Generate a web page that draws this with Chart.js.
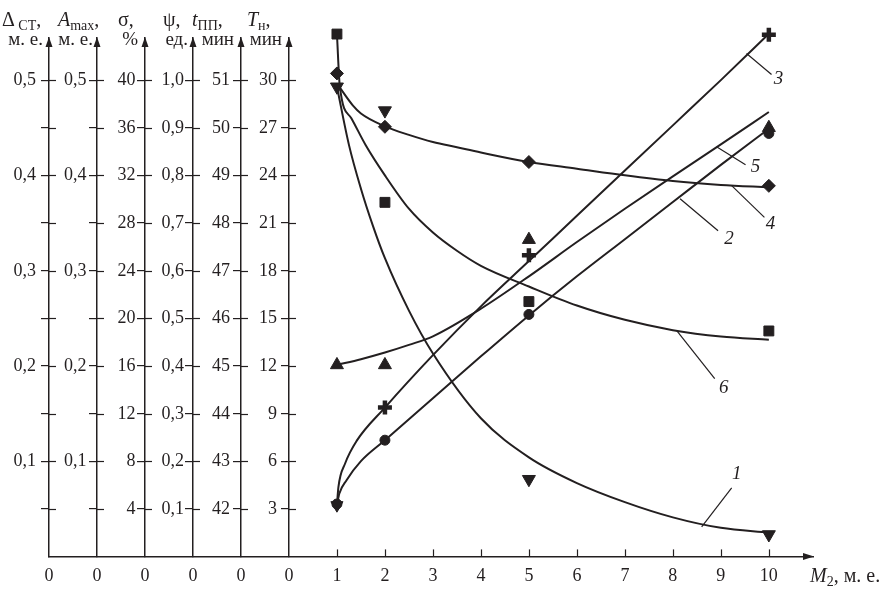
<!DOCTYPE html>
<html>
<head>
<meta charset="utf-8">
<script src="https://cdn.jsdelivr.net/npm/chart.js@4.4.1/dist/chart.umd.min.js"></script>
<style>
  html, body { margin: 0; padding: 0; background: #fff; }
</style>
</head>
<body>
<canvas id="grafico" width="883" height="592"></canvas>
<script>
const ink = '#231f20';
const serif = "'Liberation Serif', 'DejaVu Serif', serif";

// M2 values where the points were measured
const m2 = [1, 2, 5, 10];

// measured points (one array per curve, in the units of its own axis)
const deltaCt = [0.493, 0.468, 0.081, 0.023];   // 1 - Δст, м.е.
const aMax    = [0.055, 0.122, 0.254, 0.444];   // 2 - Amax, м.е.
const sigma   = [4.3, 12.5, 25.3, 43.8];        // 3 - σ, %
const psi     = [1.014, 0.902, 0.828, 0.778];   // 4 - ψ, ед.
const tPP     = [45.02, 45.02, 47.65, 50.0];    // 5 - tпп, мин
const tN      = [32.9, 22.3, 16.05, 14.2];      // 6 - Tн, мин

// approximating curves
const c1x = [1, 1.25, 1.5, 1.75, 2, 2.5, 3, 4, 5, 6, 7, 8, 9, 10];
const c1y = [0.493, 0.432, 0.386, 0.347, 0.313, 0.258, 0.213, 0.145, 0.104, 0.077, 0.057, 0.041, 0.030, 0.025];
const c2x = [1, 1.05, 1.2, 1.5, 2, 3, 4, 5, 6, 7, 8, 9, 10];
const c2y = [0.054, 0.066, 0.080, 0.100, 0.122, 0.166, 0.210, 0.253, 0.294, 0.333, 0.372, 0.411, 0.449];
const c3x = [1, 1.03, 1.17, 1.41, 2, 3, 4, 5, 6, 7, 8, 9, 10];
const c3y = [4.3, 5.8, 7.8, 9.7, 12.5, 16.9, 21.0, 24.8, 28.6, 32.4, 36.2, 40.0, 43.9];
const c4x = [1.02, 1.33, 1.5, 2, 2.5, 3, 3.5, 4, 5, 6, 7, 8, 9, 10];
const c4y = [0.99, 0.947, 0.930, 0.903, 0.885, 0.870, 0.859, 0.848, 0.828, 0.814, 0.800, 0.788, 0.780, 0.775];
const c5x = [1, 1.5, 2, 2.5, 3, 4, 5, 6, 7, 8, 9, 10];
const c5y = [45.02, 45.14, 45.28, 45.44, 45.62, 46.2, 46.88, 47.6, 48.3, 48.98, 49.65, 50.33];
const c6x = [1, 1.06, 1.3, 1.6, 2, 2.5, 3, 3.5, 4, 5, 6, 7, 8, 9, 10];
const c6y = [32.9, 29.6, 27.6, 25.9, 24.0, 21.9, 20.4, 19.25, 18.3, 17.0, 15.8, 14.9, 14.25, 13.85, 13.65];

// tick values
const xTicks = [-5, -4, -3, -2, -1, 0, 1, 2, 3, 4, 5, 6, 7, 8, 9, 10];
const dTicks = [0.05, 0.1, 0.15, 0.2, 0.25, 0.3, 0.35, 0.4, 0.45, 0.5];
const sTicks = [4, 8, 12, 16, 20, 24, 28, 32, 36, 40];
const pTicks = [0.1, 0.2, 0.3, 0.4, 0.5, 0.6, 0.7, 0.8, 0.9, 1.0];
const tTicks = [42, 43, 44, 45, 46, 47, 48, 49, 50, 51];
const nTicks = [3, 6, 9, 12, 15, 18, 21, 24, 27, 30];

const topSteps = 10.884;  // axes run a bit above the last tick

const comma = v => v.toFixed(1).replace('.', ',');
const halfComma = v => (Math.round(v * 100) % 10 === 0 ? comma(v) : '');
const plain = v => String(v);

function yAxis(at, min, step, ticks, fmt) {
  return {
    type: 'linear',
    position: { x: at },
    min: min,
    max: min + step * topSteps,
    afterBuildTicks: s => { s.ticks = ticks.map(v => ({ value: v })); },
    ticks: { display: false, callback: fmt, autoSkip: false },
    grid: { drawOnChartArea: false, tickLength: 7, color: ink, lineWidth: 1.2 },
    border: { color: ink, width: 1.5 }
  };
}

const pts = (xs, ys) => xs.map((x, i) => ({ x: x, y: ys[i] }));

function marks(ys, id, style, r, extra) {
  return Object.assign({
    data: pts(m2, ys), yAxisID: id, showLine: false, clip: false,
    pointStyle: style, pointRadius: r, pointBorderWidth: 1,
    pointBackgroundColor: ink, pointBorderColor: ink
  }, extra || {});
}

function curve(xs, ys, id) {
  return {
    data: pts(xs, ys), yAxisID: id, showLine: true, clip: false,
    pointRadius: 0, borderColor: ink, borderWidth: 2,
    cubicInterpolationMode: 'monotone', fill: false
  };
}

const axisIds = ['yD', 'yA', 'yS', 'yP', 'yT', 'yN'];
const axisFmt = [halfComma, halfComma, plain, comma, plain, plain];
const labelGap = [13, 10.5, 9.5, 9, 11, 12];
const axisTitles = [
  { dx: -47, ux: -6, top: [['Δ', 'n'], [' СТ', 's'], [',', 'n']], unit: 'м. е.' },
  { dx: -39, ux: -4, top: [['A', 'i'], ['max', 's'], [',', 'n']], unit: 'м. е.' },
  { dx: -27, ux: -7, top: [['σ,', 'n']], unit: '%' },
  { dx: -30, ux: -5, top: [['ψ,', 'n']], unit: 'ед.' },
  { dx: -49, ux: -7, top: [['t', 'i'], ['ПП', 's'], [',', 'n']], unit: 'мин' },
  { dx: -42, ux: -7, top: [['T', 'i'], ['н', 's'], [',', 'n']], unit: 'мин' }
];
const curveNotes = [
  { t: '1', id: 'yD', x: 8.6, y: 0.031, ex: 30, ey: -39, tx: 35, ty: -53 },
  { t: '2', id: 'yA', x: 8.15, y: 0.3755, ex: 38, ey: 32, tx: 49, ty: 40 },
  { t: '3', id: 'yS', x: 9.535, y: 42.24, ex: 25, ey: 21, tx: 32, ty: 26 },
  { t: '4', id: 'yP', x: 9.22, y: 0.779, ex: 33, ey: 32, tx: 39, ty: 39 },
  { t: '5', id: 'yT', x: 8.91, y: 49.6, ex: 29, ey: 18, tx: 39, ty: 20 },
  { t: '6', id: 'yN', x: 8.08, y: 14.22, ex: 38, ey: 48, tx: 47, ty: 57 }
];

function rich(ctx, x, y, segs, size) {
  segs.forEach(([txt, st]) => {
    const sub = st === 's';
    ctx.font = (st === 'i' ? 'italic ' : '') + (sub ? Math.round(size * 0.7) : size) + 'px ' + serif;
    ctx.fillText(txt, x, y + (sub ? 4 : 0));
    x += ctx.measureText(txt).width;
  });
}

function seg(ctx, x1, y1, x2, y2) {
  ctx.beginPath(); ctx.moveTo(x1, y1); ctx.lineTo(x2, y2); ctx.stroke();
}

// tick labels, ticks on the other side of the axes, arrows, titles and curve numbers
const decor = {
  id: 'decor',
  afterDraw(chart) {
    const ctx = chart.ctx, xs = chart.scales.x, area = chart.chartArea;
    ctx.save();
    ctx.strokeStyle = ink; ctx.fillStyle = ink; ctx.lineWidth = 1.2;

    axisIds.forEach((id, k) => {
      const s = chart.scales[id];
      const px = Math.round(xs.getPixelForValue(s.options.position.x));
      ctx.textAlign = 'right'; ctx.textBaseline = 'middle';
      ctx.font = '18px ' + serif;
      s.ticks.forEach(t => {
        const y = Math.round(s.getPixelForValue(t.value)) + 0.5;
        seg(ctx, px, y, px + 7, y);
        ctx.fillText(axisFmt[k](t.value), px - labelGap[k], y);
      });
      ctx.beginPath();
      ctx.moveTo(px, area.top - 1); ctx.lineTo(px - 3.5, area.top + 9); ctx.lineTo(px + 3.5, area.top + 9);
      ctx.closePath(); ctx.fill();

      const ti = axisTitles[k];
      ctx.textBaseline = 'alphabetic';
      ctx.textAlign = 'left';
      rich(ctx, px + ti.dx, 26, ti.top, 20);
      ctx.textAlign = 'right';
      ctx.font = '19px ' + serif;
      ctx.fillText(ti.unit, px + ti.ux, 45);
    });

    // x axis: inner ticks and arrow
    xTicks.filter(v => v > 0).forEach(v => {
      const px = Math.round(xs.getPixelForValue(v)) + 0.5;
      seg(ctx, px, area.bottom, px, area.bottom - 7);
    });
    ctx.beginPath();
    ctx.moveTo(area.right + 1, area.bottom); ctx.lineTo(area.right - 10, area.bottom - 3.5); ctx.lineTo(area.right - 10, area.bottom + 3.5);
    ctx.closePath(); ctx.fill();
    ctx.textAlign = 'left'; ctx.textBaseline = 'alphabetic';
    rich(ctx, area.right - 3, area.bottom + 26, [['M', 'i'], ['2', 's'], [', м. е.', 'n']], 20);

    // curve numbers with leaders
    ctx.textAlign = 'center'; ctx.textBaseline = 'middle';
    ctx.font = 'italic 19px ' + serif;
    curveNotes.forEach(n => {
      const x0 = xs.getPixelForValue(n.x), y0 = chart.scales[n.id].getPixelForValue(n.y);
      seg(ctx, x0, y0, x0 + n.ex, y0 + n.ey);
      ctx.fillText(n.t, x0 + n.tx, y0 + n.ty);
    });
    ctx.restore();
  }
};

new Chart(document.getElementById('grafico'), {
  type: 'scatter',
  data: {
    datasets: [
      marks(deltaCt, 'yD', 'triangle', 7.5, { pointRotation: 180 }),
      marks(aMax, 'yA', 'circle', 5),
      marks(sigma, 'yS', ['triangle', 'cross', 'cross', 'cross'], 7,
            { pointRotation: [180, 0, 0, 0], pointBorderWidth: [1, 4.5, 4.5, 4.5] }),
      marks(psi, 'yP', 'rectRot', 6.5),
      marks(tPP, 'yT', 'triangle', 7.5),
      marks(tN, 'yN', 'rect', 7),
      curve(c1x, c1y, 'yD'),
      curve(c2x, c2y, 'yA'),
      curve(c3x, c3y, 'yS'),
      curve(c4x, c4y, 'yP'),
      curve(c5x, c5y, 'yT'),
      curve(c6x, c6y, 'yN')
    ]
  },
  options: {
    responsive: false,
    devicePixelRatio: 1,
    animation: false,
    layout: { padding: { left: 49, right: 70, top: 38, bottom: -4 } },
    plugins: { legend: { display: false }, tooltip: { enabled: false } },
    scales: {
      x: {
        type: 'linear', min: -5, max: 10.92,
        afterBuildTicks: s => { s.ticks = xTicks.map(v => ({ value: v })); },
        ticks: { callback: v => (v <= 0 ? '0' : String(v)), padding: 9, autoSkip: false, maxRotation: 0,
                 color: ink, font: { family: serif, size: 18 } },
        grid: { display: false, drawTicks: false },
        border: { color: ink, width: 1.5 }
      },
      yD: yAxis(-5, 0, 0.05, dTicks, halfComma),
      yA: yAxis(-4, 0, 0.05, dTicks, halfComma),
      yS: yAxis(-3, 0, 4, sTicks, plain),
      yP: yAxis(-2, 0, 0.1, pTicks, comma),
      yT: yAxis(-1, 41, 1, tTicks, plain),
      yN: yAxis(0, 0, 3, nTicks, plain)
    }
  },
  plugins: [decor]
});
</script>
</body>
</html>
